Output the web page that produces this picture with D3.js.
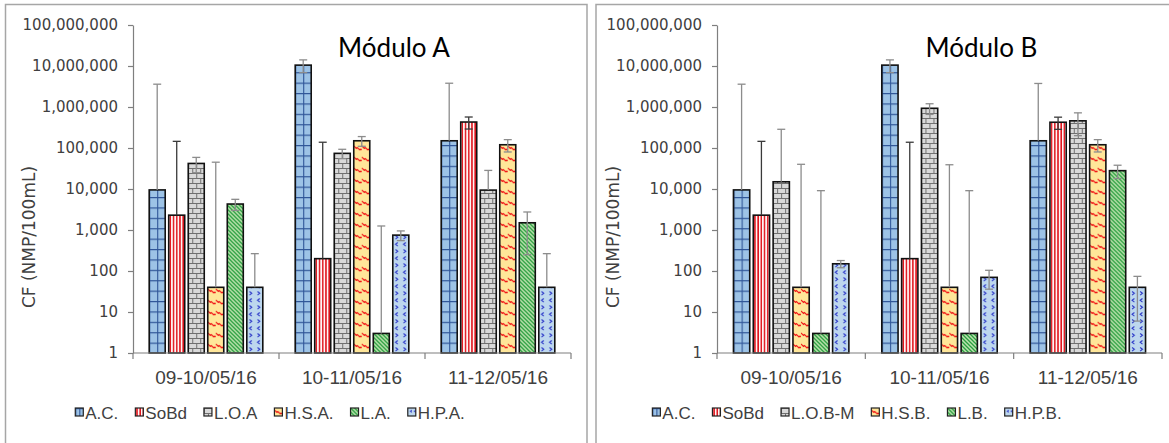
<!DOCTYPE html>
<html>
<head>
<meta charset="utf-8">
<script src="https://cdn.jsdelivr.net/npm/d3@7"></script>
<style>
  body { margin: 0; background: #fff; }
  svg { display: block; }
</style>
</head>
<body>
<svg id="chart" width="1169" height="443"></svg>
<script>
// Sampling dates (categories)
const categories = ["09-10/05/16", "10-11/05/16", "11-12/05/16"];

// Series names for each module
const seriesA = ["A.C.", "SoBd", "L.O.A", "H.S.A.", "L.A.", "H.P.A."];
const seriesB = ["A.C.", "SoBd", "L.O.B-M", "H.S.B.", "L.B.", "H.P.B."];

// Coliformes fecales (NMP/100mL), one row per series, one value per date
const valuesA = [
  [9500, 10500000, 150000],
  [2300, 200, 430000],
  [42000, 74000, 9400],
  [40, 150000, 120000],
  [4300, 3, 1500],
  [40, 750, 40]
];
const errorsA = [
  [3590000, 3600000, 3650000],
  [143000, 138000, 140000],
  [17000, 19000, 19000],
  [45000, 40000, 40000],
  [1300, 1250, 1250],
  [225, 200, 225]
];

const valuesB = [
  [9500, 10500000, 150000],
  [2300, 200, 425000],
  [15000, 930000, 460000],
  [40, 40, 120000],
  [3, 3, 28000],
  [150, 70, 40]
];
const errorsB = [
  [3590000, 3600000, 3600000],
  [143000, 138000, 140000],
  [271000, 270000, 260000],
  [40000, 39000, 40000],
  [9100, 9100, 10000],
  [30, 34, 34]
];

// Log axis tick values
const yTicks = [1, 10, 100, 1000, 10000, 100000, 1000000, 10000000, 100000000];

// Fill style of each series (same order for both modules)
const patternKinds = ["grid", "vstripe", "brick", "wave", "diag", "chevron"];

const svg = d3.select("#chart");
const defs = svg.append("defs");
let patternCount = 0;

// Builds a pattern anchored at (ox, oy) so every bar starts its texture at its own edge
function makePattern(kind, ox, oy, bw) {
  const id = "pat" + (patternCount++);
  const p = defs.append("pattern").attr("id", id)
    .attr("patternUnits", "userSpaceOnUse")
    .attr("x", ox).attr("y", oy);
  if (kind === "grid") {
    const w = bw / 2, h = 10.4;
    p.attr("width", w).attr("height", h);
    p.append("rect").attr("width", w).attr("height", h).attr("fill", "#9dc3e6");
    p.append("path").attr("d", `M0,0V${h}M0,0H${w}`)
      .attr("stroke", "#2f5597").attr("stroke-width", 2.2).attr("fill", "none");
  } else if (kind === "vstripe") {
    p.attr("width", 3.2).attr("height", 4);
    p.append("rect").attr("width", 3.2).attr("height", 4).attr("fill", "#fff4f4");
    p.append("rect").attr("x", 0.9).attr("width", 1.5).attr("height", 4).attr("fill", "#e0141c");
  } else if (kind === "brick") {
    const w = 8, h = 10;
    p.attr("width", w).attr("height", h);
    p.append("rect").attr("width", w).attr("height", h).attr("fill", "#d9d9d9");
    p.append("path").attr("d", `M0,0.5H${w}M0,5.5H${w}M0.5,0V5.5M4.5,5.5V10`)
      .attr("stroke", "#707070").attr("stroke-width", 1).attr("fill", "none");
  } else if (kind === "wave") {
    const w = 8, h = 11;
    p.attr("width", w).attr("height", h);
    p.append("rect").attr("width", w).attr("height", h).attr("fill", "#ffe699");
    p.append("path").attr("d", "M0,2 L2.5,4.5 L3.5,3.5 L6,6 L7,5 L8,6")
      .attr("stroke", "#f01818").attr("stroke-width", 1.1).attr("fill", "none");
  } else if (kind === "diag") {
    const w = 4, h = 4;
    p.attr("width", w).attr("height", h);
    p.append("rect").attr("width", w).attr("height", h).attr("fill", "#c5e6b4");
    p.append("path").attr("d", "M-1,-1L5,5M-1,3L1,5M3,-1L5,1")
      .attr("stroke", "#1f9a38").attr("stroke-width", 1.3).attr("fill", "none");
  } else if (kind === "chevron") {
    const w = bw / 2, h = 14;
    p.attr("width", w).attr("height", h);
    p.append("rect").attr("width", w).attr("height", h).attr("fill", "#bdd7ee");
    p.append("path").attr("d", "M5,1.5L2.8,3.3L5,5.1M2.8,8.5L5,10.3L2.8,12.1")
      .attr("stroke", "#2a36c8").attr("stroke-width", 1.1).attr("fill", "none");
  }
  return `url(#${id})`;
}

function drawModule(cfg) {
  const g = svg.append("g");

  // Chart frame
  g.append("rect")
    .attr("x", cfg.frame[0]).attr("y", 4.5)
    .attr("width", cfg.frame[1]).attr("height", 520)
    .attr("fill", "none").attr("stroke", "#a6a6a6").attr("stroke-width", 1.5);

  const y = d3.scaleLog().domain([1, 1e8]).range([353, 25]);
  const x = d3.scaleBand().domain(categories).range([cfg.x0, cfg.x1]).padding(0);
  const xs = d3.scaleBand().domain(d3.range(cfg.series.length))
    .range([0, x.bandwidth()]).paddingInner(0.18).paddingOuter(0.83);
  const bw = xs.bandwidth();

  // Y axis
  const yAxis = d3.axisLeft(y).tickValues(yTicks).tickFormat(d3.format(","))
    .tickSize(5).tickSizeOuter(0).tickPadding(10);
  const ya = g.append("g").attr("transform", `translate(${cfg.x0},0)`).call(yAxis);
  ya.select(".domain").attr("stroke", "#7f7f7f").attr("stroke-width", 1.2);
  ya.selectAll(".tick line").attr("stroke", "#7f7f7f").attr("stroke-width", 1.2);
  ya.selectAll(".tick text").attr("fill", "#404040")
    .style("font-family", "DejaVu Sans").style("font-size", "15px");

  // Y axis title
  g.append("text")
    .attr("transform", `translate(${cfg.x0 - 98},237) rotate(-90)`)
    .attr("text-anchor", "middle")
    .attr("fill", "#404040")
    .style("font-family", "DejaVu Sans").style("font-size", "17px")
    .text("CF (NMP/100mL)");

  // Bars
  cfg.series.forEach((s, si) => {
    categories.forEach((c, ci) => {
      const v = cfg.values[si][ci];
      const bx = x(c) + xs(si);
      const fill = makePattern(patternKinds[si], bx, y(1), bw);
      g.append("rect")
        .attr("x", bx).attr("y", y(v))
        .attr("width", bw).attr("height", y(1) - y(v))
        .attr("fill", fill)
        .attr("stroke", "#111").attr("stroke-width", 1.6);
    });
  });

  // Error bars (lower whisker omitted where it would fall below zero)
  cfg.series.forEach((s, si) => {
    const col = si === 1 ? "#3a3a3a" : "#8c8c8c";
    categories.forEach((c, ci) => {
      const v = cfg.values[si][ci], e = cfg.errors[si][ci];
      const cx = x(c) + xs(si) + bw / 2;
      const top = y(v + e);
      const hasLow = v - e > 0;
      const bot = hasLow ? y(v - e) : y(v);
      const eb = g.append("g").attr("stroke", col).attr("stroke-width", 1.3).attr("fill", "none");
      eb.append("line").attr("x1", cx).attr("x2", cx).attr("y1", top).attr("y2", bot);
      eb.append("line").attr("x1", cx - 4).attr("x2", cx + 4).attr("y1", top).attr("y2", top);
      if (hasLow) {
        eb.append("line").attr("x1", cx - 4).attr("x2", cx + 4).attr("y1", bot).attr("y2", bot);
      }
    });
  });

  // X axis line with category separators
  const xa = g.append("g").attr("stroke", "#7f7f7f").attr("stroke-width", 1.2);
  xa.append("line").attr("x1", cfg.x0).attr("x2", cfg.x1).attr("y1", y(1)).attr("y2", y(1));
  categories.map(c => x(c)).concat([cfg.x1]).forEach(tx => {
    xa.append("line").attr("x1", tx).attr("x2", tx).attr("y1", y(1)).attr("y2", y(1) + 6);
  });
  g.selectAll(".cat").data(categories).enter().append("text")
    .attr("x", c => x(c) + x.bandwidth() / 2).attr("y", 384)
    .attr("text-anchor", "middle").attr("fill", "#404040")
    .style("font-family", "Liberation Sans").style("font-size", "19px")
    .text(c => c);

  // Title
  g.append("text")
    .attr("x", (cfg.x0 + cfg.x1) / 2 + 42).attr("y", 57)
    .attr("text-anchor", "middle").attr("fill", "#000")
    .style("font-family", "Lato").style("font-size", "26px")
    .text(cfg.title);

  // Legend
  const legendBase = 419;
  const lg = g.append("g");
  const items = lg.selectAll("g").data(cfg.series).enter().append("g");
  items.append("text")
    .attr("y", legendBase).attr("fill", "#404040")
    .style("font-family", "Liberation Sans").style("font-size", "17px")
    .text(d => d);
  const box = 8, boxGap = 2, itemGap = 17;
  let cursor = 0;
  const widths = [];
  items.each(function () {
    widths.push(d3.select(this).select("text").node().getComputedTextLength());
  });
  const total = d3.sum(widths) + cfg.series.length * (box + boxGap) + (cfg.series.length - 1) * itemGap;
  let start = cfg.legendCx - total / 2;
  items.each(function (d, i) {
    const it = d3.select(this);
    const bxp = start + cursor;
    const byp = legendBase - 11;
    it.insert("rect", "text")
      .attr("x", bxp).attr("y", byp).attr("width", box).attr("height", box)
      .attr("fill", makePattern(patternKinds[i], bxp, byp, box))
      .attr("stroke", "#222").attr("stroke-width", 1.2);
    it.select("text").attr("x", bxp + box + boxGap);
    cursor += box + boxGap + widths[i] + itemGap;
  });
}

drawModule({
  title: "Módulo A", series: seriesA, values: valuesA, errors: errorsA,
  x0: 133, x1: 571, frame: [5.5, 581.5], legendCx: 270
});
drawModule({
  title: "Módulo B", series: seriesB, values: valuesB, errors: errorsB,
  x0: 717, x1: 1162, frame: [596, 620], legendCx: 857
});
</script>
</body>
</html>
